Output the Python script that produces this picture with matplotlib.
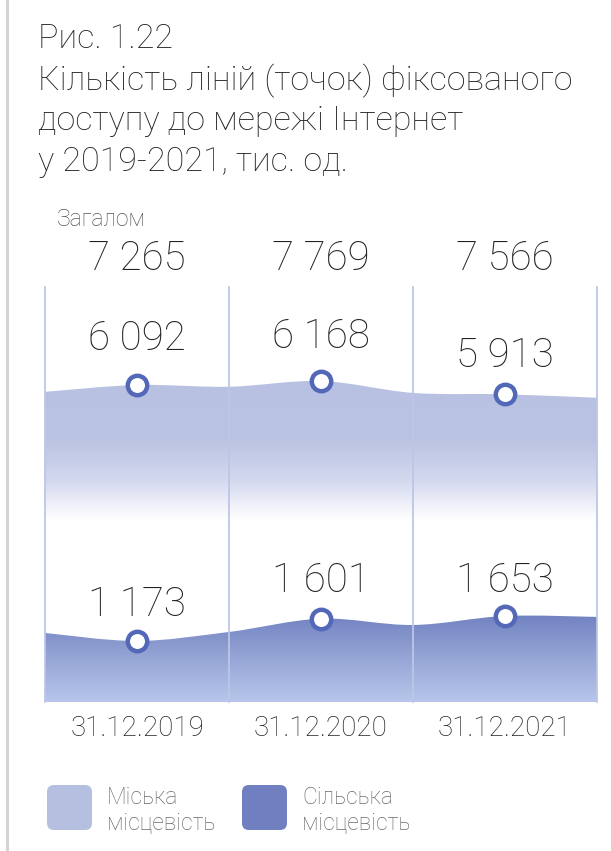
import numpy as np
import matplotlib
matplotlib.use("Agg")
import matplotlib.pyplot as plt
from matplotlib.path import Path
from matplotlib.patches import PathPatch, FancyBboxPatch
from matplotlib.colors import to_rgb
from matplotlib.lines import Line2D

plt.rcParams["font.family"] = ["Roboto", "DejaVu Sans"]
plt.rcParams["font.weight"] = "light"

# --- data -------------------------------------------------------------
title_lines = ["Рис. 1.22",
               "Кількість ліній (точок) фіксованого",
               "доступу до мережі Інтернет",
               "у 2019-2021, тис. од."]
dates = ["31.12.2019", "31.12.2020", "31.12.2021"]
total_label = "Загалом"
total = [7265, 7769, 7566]
urban = [6092, 6168, 5913]
rural = [1173, 1601, 1653]
# height of the wavy edge at the column borders
urban_edges = [5960, 6058, 5940, 5846]
rural_edges = [1327, 1346, 1480, 1635]
legend_labels = ["Міська\nмісцевість", "Сільська\nмісцевість"]

# --- style ------------------------------------------------------------
W, H = 611, 851
YMAX = 7975
URBAN_C = "#b5bfe0"
RURAL_C = "#6f7fc0"
RING_C = "#5468b8"
GRID_C = "#bcc6e6"
TXT_C = "#222222"
urban_stops = [(0, "#ffffff"), (3500, "#ffffff"), (3750, "#f2f3fa"),
               (4270, "#d3d8ee"), (5035, "#bac3e2"), (YMAX, URBAN_C)]
rural_stops = [(0, "#b7c6ea"), (900, "#93a3d4"), (1750, RURAL_C), (YMAX, RURAL_C)]
urban_off = [25, 24, 20]   # label baseline above ring, points
rural_off = [18, 19, 17]


def fx(px):
    return px / W


def fy(px):
    return 1 - px / H


def fmt(v):
    return f"{v:,}".replace(",", " ")


def wave_path(centers, edges):
    xs, ys = [], []
    for i, e in enumerate(edges):
        xs.append(i - 0.5); ys.append(e)
        if i < len(centers):
            xs.append(i); ys.append(centers[i])
    pts = np.column_stack([xs, ys]).astype(float)
    ext = np.vstack([pts[0], pts, pts[-1]])
    verts = [(xs[0], 0), tuple(pts[0])]
    codes = [Path.MOVETO, Path.LINETO]
    for i in range(len(pts) - 1):
        p0, p1, p2, p3 = ext[i], ext[i + 1], ext[i + 2], ext[i + 3]
        c1 = p1 + (p2 - p0) / 6
        c2 = p2 - (p3 - p1) / 6
        verts += [tuple(c1), tuple(c2), tuple(p2)]
        codes += [Path.CURVE4] * 3
    verts += [(xs[-1], 0), (xs[0], 0)]
    codes += [Path.LINETO, Path.CLOSEPOLY]
    return Path(verts, codes)


def gradient_fill(ax, path, stops, zorder):
    patch = PathPatch(path, facecolor="none", edgecolor="none")
    ax.add_patch(patch)
    yy = np.linspace(0, YMAX, 600)
    vals = np.array([s[0] for s in stops], dtype=float)
    cols = np.array([to_rgb(s[1]) for s in stops])
    rgb = np.column_stack([np.interp(yy, vals, cols[:, k]) for k in range(3)])
    im = ax.imshow(rgb[:, None, :], extent=(-0.5, 2.5, 0, YMAX),
                   origin="lower", aspect="auto", zorder=zorder,
                   interpolation="bilinear")
    im.set_clip_path(patch)


fig = plt.figure(figsize=(W / 100, H / 100), dpi=100)
fig.add_artist(Line2D([fx(7), fx(7)], [0, 1], color="#d4d4d4", lw=2.2))

for i, line in enumerate(title_lines):
    fig.text(fx(38), fy([48, 90, 130, 171][i]), line, fontsize=24.5,
             color=TXT_C, va="baseline", ha="left")

ax = fig.add_axes([fx(45), fy(702), fx(552), 415 / H])
ax.set_xlim(-0.5, 2.5)
ax.set_ylim(0, YMAX)
for s in ax.spines.values():
    s.set_visible(False)
ax.set_yticks([])
ax.set_xticks(range(len(dates)), dates, fontsize=20, color=TXT_C)
ax.tick_params(axis="x", length=0, pad=9)

gradient_fill(ax, wave_path(urban, urban_edges), urban_stops, 1)
gradient_fill(ax, wave_path(rural, rural_edges), rural_stops, 2)

for xb in np.arange(-0.5, len(dates), 1.0):
    ax.axvline(xb, color=GRID_C, lw=1.3, zorder=3, clip_on=False)

xs = np.arange(len(dates))
for vals, offs in ((urban, urban_off), (rural, rural_off)):
    ax.plot(xs, vals, "o", ms=14, mfc="white", mec=RING_C, mew=3.2, zorder=5)
    for x, v, o in zip(xs, vals, offs):
        ax.annotate(fmt(v), (x, v), xytext=(0, o), textcoords="offset points",
                    ha="center", va="baseline", fontsize=29, color=TXT_C)

tr = ax.get_xaxis_transform()
for x, v in zip(xs, total):
    ax.text(x, (702 - 270) / 415, fmt(v), transform=tr, ha="center",
            va="baseline", fontsize=29, color=TXT_C, clip_on=False)
ax.text(-0.435, (702 - 226) / 415, total_label, transform=tr, ha="left",
        va="baseline", fontsize=16.5, color="#555555", clip_on=False)

for i, (lab, col) in enumerate(zip(legend_labels, [URBAN_C, RURAL_C])):
    x0 = [47, 242][i]
    box = FancyBboxPatch((x0 / 100, (H - 830) / 100), 0.45, 0.45,
                         boxstyle="round,pad=0,rounding_size=0.07",
                         transform=fig.dpi_scale_trans, facecolor=col,
                         edgecolor="none")
    fig.add_artist(box)
    for j, part in enumerate(lab.split("\n")):
        fig.text(fx(x0 + 60), fy([804, 830][j]), part, fontsize=16.5,
                 color="#6a6a6a", va="baseline", ha="left")

fig.savefig("out.png", dpi=100)
